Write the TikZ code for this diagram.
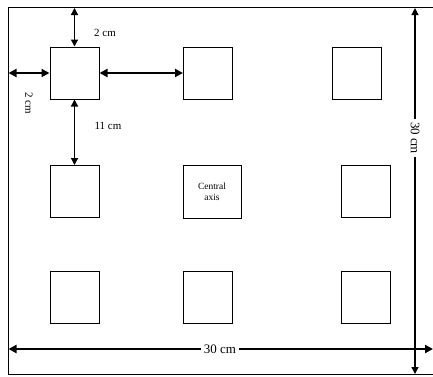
\documentclass[tikz,border=0pt]{standalone}
\usepackage{fontspec}
\setmainfont{Liberation Serif}
\usetikzlibrary{arrows.meta}
\begin{document}
\begin{tikzpicture}[x=1bp,y=-1bp,
  cell/.style={draw,line width=1bp,minimum width=49bp,minimum height=52bp,inner sep=0pt},
  dim/.style={line width=1.3bp,{Triangle[length=7bp,width=7bp]}-{Triangle[length=7bp,width=7bp]}},
  dimthick/.style={line width=2bp,{Triangle[length=8bp,width=8bp]}-{Triangle[length=8bp,width=8bp]}},
  onehead/.style={line width=1.3bp,-{Triangle[length=7bp,width=7bp]}},
  oneheadthick/.style={line width=2bp,-{Triangle[length=8bp,width=8bp]}},
  lab/.style={font=\fontsize{11}{12}\selectfont,inner sep=0pt},
  biglab/.style={font=\fontsize{13}{14}\selectfont,inner sep=3pt}]
\useasboundingbox (0,0) rectangle (433,376);
% outer frame (cut at right)
\draw[line width=1bp] (433,7.5) -- (8,7.5) -- (8,374.5) -- (433,374.5);
% boxes
\node[cell] (a1) at (74.5,73) {};
\node[cell] (a2) at (208,73) {};
\node[cell] (a3) at (357,73) {};
\node[cell] (b1) at (74.5,191.5) {};
\node[cell,minimum width=58bp,minimum height=53bp,align=center,font=\fontsize{9.5}{11}\selectfont] (b2) at (212,191.5) {Central\\axis};
\node[cell] (b3) at (365.5,191.5) {};
\node[cell] (c1) at (74.5,297) {};
\node[cell] (c2) at (208,297) {};
\node[cell] (c3) at (365.5,297) {};
% coordinates on frame
\coordinate (ttop) at (74.5,8);
\coordinate (lleft) at (8.5,73);
\coordinate (rtop) at (415,8);
\coordinate (rbot) at (415,374);
\coordinate (bleft) at (8.5,349);
\coordinate (bright) at (433,349);
% dimension arrows
\draw[dim] (ttop) -- (a1.north);
\draw[dimthick] (lleft) -- (a1.west);
\draw[dimthick] (a1.east) -- (a2.west);
\draw[dim] (a1.south) -- (b1.north);
% labels
\node[lab] (l1) at (105,33) {2 cm};
\node[lab,rotate=-90] (l2) at (29,103) {2 cm};
\node[lab] (l3) at (108,126) {11 cm};
\node[biglab,rotate=-90] (rl) at (415,138) {30 cm};
\node[biglab] (bl) at (220,349) {30 cm};
\draw[onehead] (rl) -- (rtop);
\draw[onehead] (rl) -- (rbot);
\draw[oneheadthick] (bl) -- (bleft);
\draw[oneheadthick] (bl) -- (bright);
\end{tikzpicture}
\end{document}
